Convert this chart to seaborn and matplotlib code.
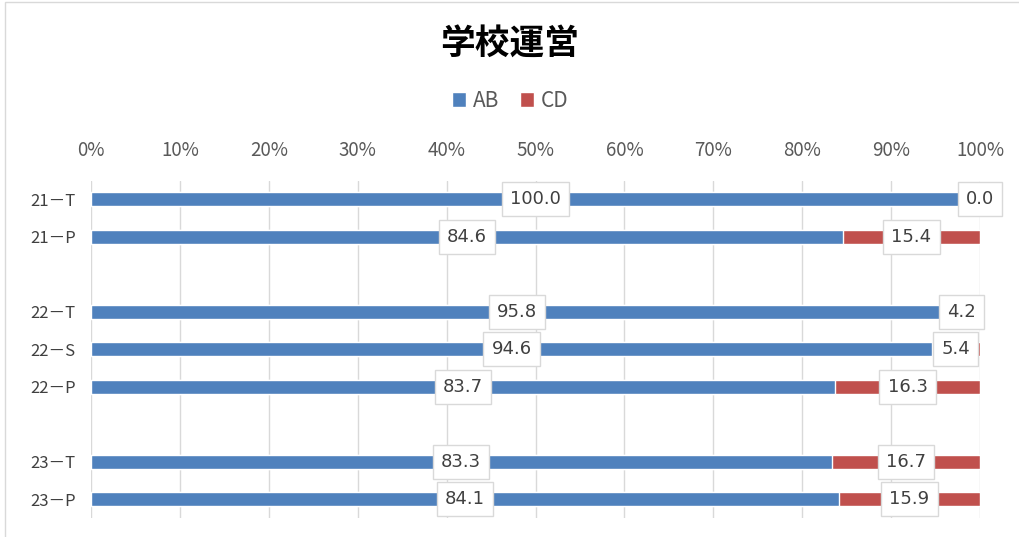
import matplotlib
matplotlib.use("Agg")
import matplotlib.pyplot as plt
import seaborn as sns
import pandas as pd
from matplotlib.patches import Rectangle

# data
groups = ["21－T", "21－P", "22－T", "22－S", "22－P", "23－T", "23－P"]
ab = [100.0, 84.6, 95.8, 94.6, 83.7, 83.3, 84.1]
cd = [0.0, 15.4, 4.2, 5.4, 16.3, 16.7, 15.9]
# row order with empty spacer rows
order = ["21－T", "21－P", " ", "22－T", "22－S", "22－P", "  ", "23－T", "23－P"]

df = pd.DataFrame({"group": groups, "AB": ab, "CD": cd})
df["total"] = df["AB"] + df["CD"]

sns.set_style("white")
plt.rcParams["font.family"] = ["Noto Sans CJK JP", "DejaVu Sans"]

blue = "#4F81BD"
red = "#C0504D"

fig = plt.figure(figsize=(10.19, 5.37), dpi=100)
ax = fig.add_axes([91 / 1019, 1 - 518 / 537, 889 / 1019, 337.5 / 537])

sns.barplot(data=df, y="group", x="total", order=order, color=red,
            width=0.38, saturation=1, ax=ax, label="CD", zorder=2)
sns.barplot(data=df, y="group", x="AB", order=order, color=blue,
            width=0.38, saturation=1, ax=ax, label="AB", zorder=3)
handles, labels = ax.get_legend_handles_labels()
hmap = dict(zip(labels, handles))
if ax.get_legend() is not None:
    ax.get_legend().remove()

ax.set_xlim(0, 100)
ax.set_ylim(len(order) - 0.5, -0.5)
ax.set_xticks(range(0, 101, 10))
ax.set_xticklabels([f"{t}%" for t in range(0, 101, 10)])
ax.xaxis.tick_top()
ax.tick_params(axis="x", length=0, pad=14, labelsize=13.5, labelcolor="#595959")
ax.tick_params(axis="y", length=0, pad=11, labelsize=12, labelcolor="#404040")
ax.set_xlabel("")
ax.set_ylabel("")
ax.grid(axis="x", color="#d9d9d9", linewidth=1, zorder=0)
ax.set_axisbelow(True)
for s in ax.spines.values():
    s.set_visible(False)

# value labels
box = dict(boxstyle="square,pad=0.45", facecolor="white", edgecolor="#d9d9d9", linewidth=1)
for g, a, c in zip(groups, ab, cd):
    y = order.index(g)
    ax.text(a / 2, y, f"{a:.1f}", ha="center", va="center", fontsize=13,
            color="#404040", bbox=box, zorder=5, family=["DejaVu Sans"], clip_on=False)
    ax.text(a + c / 2, y, f"{c:.1f}", ha="center", va="center",
            fontsize=13, color="#404040", bbox=box, zorder=5, family=["DejaVu Sans"],
            clip_on=False)

# legend
fig.legend([hmap["AB"], hmap["CD"]], ["AB", "CD"], loc="center",
           bbox_to_anchor=(510 / 1019, 1 - 101 / 537), ncol=2, frameon=False,
           fontsize=15, handlelength=0.7, handleheight=0.7, handletextpad=0.3,
           columnspacing=1.0, labelcolor="#595959")

fig.suptitle("学校運営", y=1 - 44 / 537, va="center", fontsize=25,
             fontweight="bold", color="black")

# chart area border
fig.patches.append(Rectangle((5 / 1019, -0.01), 1.1, 1 - 2 / 537 + 0.01,
                             transform=fig.transFigure, fill=False,
                             edgecolor="#d9d9d9", linewidth=1))

fig.savefig("out.png", dpi=100)
